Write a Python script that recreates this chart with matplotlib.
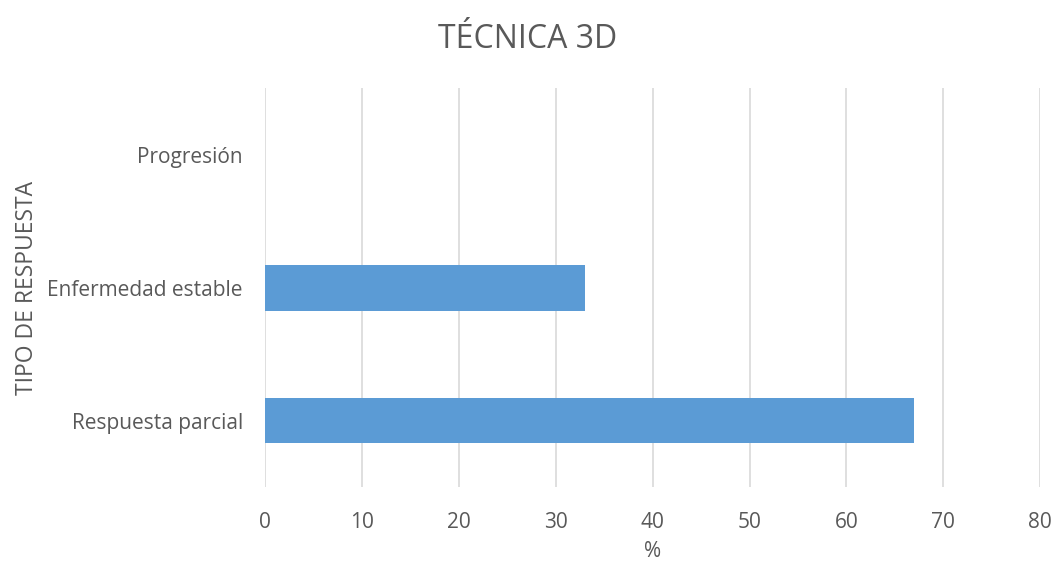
import matplotlib.pyplot as plt

# data
categorias = ["Respuesta parcial", "Enfermedad estable", "Progresión"]
porcentajes = [67, 33, 0]
ticks_x = [0, 10, 20, 30, 40, 50, 60, 70, 80]

plt.rcParams['font.family'] = ['Open Sans', 'DejaVu Sans']

fig = plt.figure(figsize=(10.57, 5.65), dpi=100)
ax = fig.add_axes([0.2507, 0.138, 0.7335, 0.706])

ax.barh(range(len(categorias)), porcentajes, height=0.345, color="#5B9BD5", zorder=3)

ax.set_xlim(0, 80)
ax.set_ylim(-0.5, len(categorias) - 0.5)
ax.set_xticks(ticks_x)
ax.set_yticks(range(len(categorias)))
ax.set_yticklabels(categorias)

# vertical gridlines only, no frame
ax.grid(axis="x", color="#d9d9d9", linewidth=1.2, zorder=0)
for s in ax.spines.values():
    s.set_visible(False)
ax.tick_params(length=0, colors="#595959", labelsize=15)
ax.tick_params(axis="x", pad=18)
ax.tick_params(axis="y", pad=16)

ax.set_xlabel("%", color="#595959", fontsize=15, labelpad=6)
ax.set_ylabel("TIPO DE RESPUESTA", color="#595959", fontsize=16.5, labelpad=6)
fig.suptitle("TÉCNICA 3D", color="#595959", fontsize=23, x=0.499, y=0.96)

fig.savefig("out.png", dpi=100)
